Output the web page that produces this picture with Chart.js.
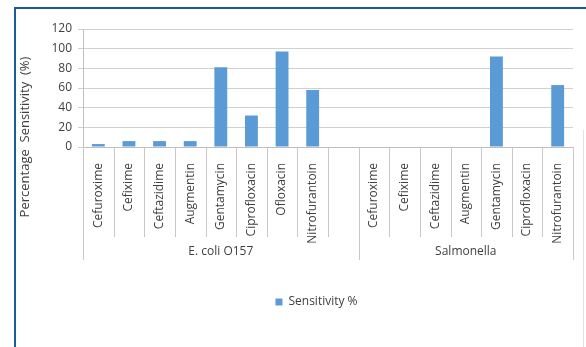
<!DOCTYPE html>
<html>
<head>
<meta charset="utf-8">
<script src="https://cdn.jsdelivr.net/npm/chart.js@4"></script>
<style>
  body { margin: 0; background: #fff; }
  #wrap { position: relative; width: 586px; height: 347px; }
  #frame { position: absolute; left: 14px; top: 7px; right: 0; bottom: 0;
           border-top: 2px solid #1b5c98; border-left: 2px solid #1b5c98; pointer-events: none; }
  #edge { position: absolute; left: 583px; top: 130px; width: 1px; bottom: 0; background: #e2e2e2; }
</style>
</head>
<body>
<div id="wrap">
  <canvas id="chart" width="586" height="347"></canvas>
  <div id="frame"></div>
  <div id="edge"></div>
</div>
<script>
// data
const groups = ["E. coli O157", "Salmonella"];
const ecoliDrugs = ["Cefuroxime", "Cefixime", "Ceftazidime", "Augmentin", "Gentamycin", "Ciprofloxacin", "Ofloxacin", "Nitrofurantoin", ""];
const ecoliValues = [3, 6, 6, 6, 81, 32, 97, 58, null];
const salmonellaDrugs = ["Cefuroxime", "Cefixime", "Ceftazidime", "Augmentin", "Gentamycin", "Ciprofloxacin", "Nitrofurantoin"];
const salmonellaValues = [0, 0, 0, 0, 92, 0, 63];
const yTicks = [0, 20, 40, 60, 80, 100, 120];
const seriesName = "Sensitivity %";
const yTitle = "Percentage  Sensitivity  (%)";

const labels = ecoliDrugs.concat(salmonellaDrugs);
const values = ecoliValues.concat(salmonellaValues);
const groupSizes = [ecoliDrugs.length, salmonellaDrugs.length];

const FONT = '"Open Sans", "DejaVu Sans", sans-serif';
const TEXT = "#404040";

// separators, group labels and the y title under the category axis
const groupAxis = {
  id: "groupAxis",
  beforeDraw(chart) {
    // legend sits centred on the plot area, not on the whole canvas
    const lg = chart.legend;
    lg.left = 60;
    lg.width = lg.right - lg.left;
  },
  afterDraw(chart) {
    const { ctx, chartArea } = chart;
    const x = chart.scales.x;
    const edges = [0];
    groupSizes.forEach(n => edges.push(edges[edges.length - 1] + n));

    ctx.save();
    ctx.strokeStyle = "#c8c8c8";
    ctx.lineWidth = 1;
    for (let i = 0; i <= labels.length; i++) {
      const px = Math.round(x.getPixelForValue(i - 0.5)) + 0.5;
      const len = edges.includes(i) ? 113 : 90;
      ctx.beginPath();
      ctx.moveTo(px, chartArea.bottom);
      ctx.lineTo(px, chartArea.bottom + len);
      ctx.stroke();
    }

    ctx.fillStyle = TEXT;
    ctx.font = "12px " + FONT;
    ctx.textAlign = "center";
    ctx.textBaseline = "middle";
    groups.forEach((g, k) => {
      const a = x.getPixelForValue(edges[k] - 0.5);
      const b = x.getPixelForValue(edges[k + 1] - 0.5);
      ctx.fillText(g, (a + b) / 2, chartArea.bottom + 105);
    });

    ctx.font = "13px " + FONT;
    ctx.translate(25, 137);
    ctx.rotate(-Math.PI / 2);
    ctx.fillText(yTitle, 0, 0);
    ctx.restore();
  }
};

new Chart(document.getElementById("chart"), {
  type: "bar",
  data: {
    labels: labels,
    datasets: [{
      label: seriesName,
      data: values,
      backgroundColor: "#5b9bd5",
      borderWidth: 0,
      barPercentage: 0.42,
      categoryPercentage: 1
    }]
  },
  options: {
    responsive: false,
    animation: false,
    layout: { padding: { top: 29, right: 13, bottom: 29, left: 0 } },
    plugins: {
      legend: {
        position: "bottom",
        labels: { boxWidth: 7, boxHeight: 7, color: TEXT, font: { family: FONT, size: 12 } }
      },
      tooltip: { enabled: false }
    },
    scales: {
      x: {
        grid: { display: false },
        border: { display: true, color: "#bfbfbf" },
        ticks: {
          autoSkip: false, minRotation: 90, maxRotation: 90, padding: 8,
          color: TEXT, font: { family: FONT, size: 12 }
        },
        afterFit(scale) { scale.height = 139; }
      },
      y: {
        min: 0, max: 120,
        afterBuildTicks(scale) { scale.ticks = yTicks.map(v => ({ value: v })); },
        grid: { color: "#d0d0d0", tickLength: 5, drawTicks: true },
        border: { display: true, color: "#bfbfbf" },
        ticks: { padding: 6, color: TEXT, font: { family: FONT, size: 12 } },
        afterFit(scale) { scale.width = 83; }
      }
    }
  },
  plugins: [groupAxis]
});
</script>
</body>
</html>
